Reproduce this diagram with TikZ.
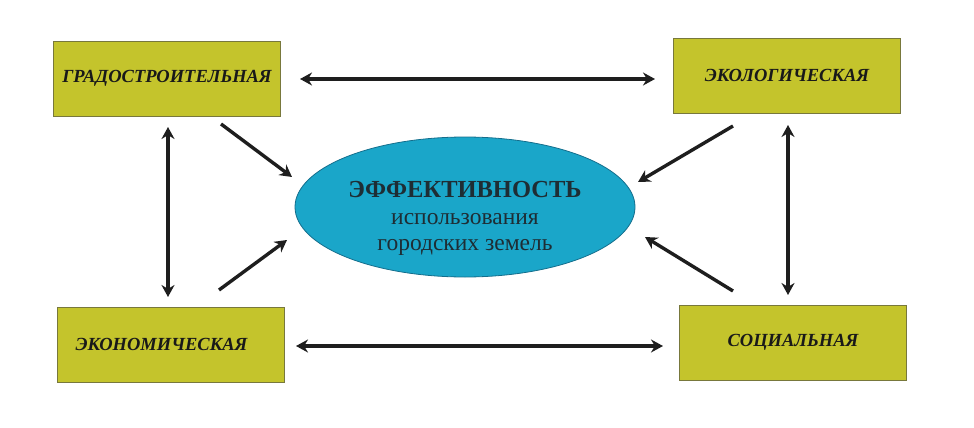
\documentclass[tikz,border=0pt]{standalone}
\usepackage{fontspec}
\setmainfont{Liberation Serif}
\usetikzlibrary{arrows.meta,shapes.geometric}
\definecolor{boxfill}{RGB}{196,196,44}
\definecolor{boxline}{RGB}{120,120,60}
\definecolor{ellfill}{RGB}{26,166,201}
\definecolor{ellline}{RGB}{20,110,140}
\definecolor{elltext}{RGB}{30,45,52}
\definecolor{arrcol}{RGB}{30,30,30}
\tikzset{
  factor/.style={draw=boxline, line width=0.8pt, fill=boxfill, minimum width=227pt, minimum height=75pt, inner sep=0pt,
    font=\fontsize{18.5}{22}\selectfont\bfseries\itshape, text=black!90},
  conn/.style={draw=arrcol, line width=3.4pt, -{Stealth[length=12pt,width=13pt]}},
  dblconn/.style={draw=arrcol, line width=3.4pt, {Stealth[length=12pt,width=13pt]}-{Stealth[length=12pt,width=13pt]}},
}
\begin{document}
\begin{tikzpicture}[x=1pt,y=-1pt]
\useasboundingbox (0,0) rectangle (974,428);
\node[factor] (g) at (167,78.5) {ГРАДОСТРОИТЕЛЬНАЯ};
\node[factor] (e) at (787,75.5) {ЭКОЛОГИЧЕСКАЯ};
\node[factor] (k) at (170.5,344.5) {\hspace*{-18pt}ЭКОНОМИЧЕСКАЯ};
\node[factor] (s) at (793,342.5) {СОЦИАЛЬНАЯ};
\node[ellipse, draw=ellline, line width=0.8pt, fill=ellfill, minimum width=340pt, minimum height=140pt, inner sep=0pt] (eff) at (465,207) {};
\node[text=elltext, align=center, font=\fontsize{23.5}{25.5}\selectfont, inner sep=0pt] (efftext) at (465,218)
  {{\fontsize{24.5}{25}\selectfont\bfseries ЭФФЕКТИВНОСТЬ}\\[2pt]
   использования\\
   городских земель};
% horizontal
\coordinate (t1) at (300,79); \coordinate (t2) at (655,79);
\coordinate (b1) at (296,346); \coordinate (b2) at (663,346);
\draw[dblconn] (t1) -- (t2);
\draw[dblconn] (b1) -- (b2);
% vertical
\coordinate (l1) at (168,127); \coordinate (l2) at (168,297);
\coordinate (r1) at (788,125); \coordinate (r2) at (788,295);
\draw[dblconn] (l1) -- (l2);
\draw[dblconn] (r1) -- (r2);
% diagonals
\coordinate (d1) at (221,124); \coordinate (d1e) at (292,177);
\coordinate (d2) at (219,290); \coordinate (d2e) at (287,240);
\coordinate (d3) at (733,126); \coordinate (d3e) at (638,182);
\coordinate (d4) at (733,291); \coordinate (d4e) at (645,237);
\draw[conn] (d1) -- (d1e);
\draw[conn] (d2) -- (d2e);
\draw[conn] (d3) -- (d3e);
\draw[conn] (d4) -- (d4e);
\end{tikzpicture}
\end{document}
